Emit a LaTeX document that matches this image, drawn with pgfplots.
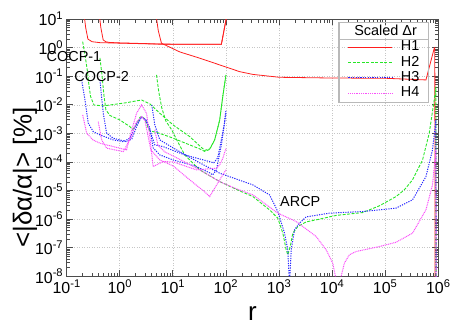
\documentclass[border=0pt]{standalone}
\usepackage{fontspec}
\setmainfont{Liberation Sans}
\usepackage{pgfplots}
\pgfplotsset{compat=1.18}
\definecolor{cH1}{RGB}{255,30,30}
\definecolor{cH2}{RGB}{40,230,40}
\definecolor{cH3}{RGB}{40,40,255}
\definecolor{cH4}{RGB}{250,80,250}
\pgfplotsset{
  H1/.style={cH1, solid, line width=0.8bp},
  H2/.style={cH2, dash pattern=on 3bp off 1.5bp, line width=0.9bp},
  H3/.style={cH3, dash pattern=on 1.2bp off 1.2bp, line width=1bp},
  H4/.style={cH4, dash pattern=on 1bp off 0.8bp, line width=1bp},
}
\begin{document}
\begin{tikzpicture}
\begin{axis}[
  width=371.6bp, height=257.2bp, scale only axis,
  xmode=log, ymode=log,
  xmin=0.1, xmax=1e6, ymin=1e-8, ymax=10,
  xtick={1e-1,1,10,100,1000,1e4,1e5,1e6},
  ytick={1e-8,1e-7,1e-6,1e-5,1e-4,1e-3,1e-2,1e-1,1,10},
  grid=major, major grid style={dash pattern=on 1bp off 1.5bp, gray!45, line width=0.6bp},
  axis line style={draw=black!70, line width=1.2bp},
  tick style={black!70, line width=0.8bp},
  major tick length=6bp, minor tick length=3.5bp,
  tick align=inside,
  ticklabel style={font=\fontsize{16}{18}\selectfont},
  xticklabel={10\textsuperscript{\pgfmathparse{int(round(\tick/ln(10)))}\pgfmathresult}},
  yticklabel={10\textsuperscript{\pgfmathparse{int(round(\tick/ln(10)))}\pgfmathresult}},
  clip mode=individual,
  xlabel={r}, ylabel={<|δα/α|> [\%]},
  xlabel style={font=\fontsize{26}{30}\selectfont, at={(rel axis cs:0.5,0)}, anchor=center, yshift=-37.7bp},
  ylabel style={font=\fontsize{26}{30}\selectfont, at={(rel axis cs:0,0.384)}, anchor=center, yshift=41.7bp},
  legend style={at={(rel axis cs:0.975,0.989)}, anchor=north east, draw=gray!55, line width=1.2bp, fill=none,
    inner xsep=9bp, inner ysep=1.5bp, column sep=8bp, row sep=0bp,
    font=\fontsize{14.5}{16}\selectfont,
    nodes={inner xsep=0bp, inner ysep=1.2bp, text height=10bp, text depth=3bp}},
  legend cell align=right,
  legend image code/.code={\draw[#1] (0bp,0bp) -- (44bp,0bp);},
]
\addlegendimage{empty legend}
\addlegendentry{\makebox[0pt][r]{Scaled Δr\hspace{2bp}}}
\addlegendimage{H1}\addlegendentry{H1}
\addlegendimage{H2}\addlegendentry{H2}
\addlegendimage{H3}\addlegendentry{H3}
\addlegendimage{H4}\addlegendentry{H4}

% ---------- H1 ----------
\addplot[H1, forget plot] coordinates {(0.212,15) (0.228,5) (0.251,2.0) (0.30,1.62) (0.42,1.50) (1.0,1.44) (3,1.37) (5.67,1.33) (20,1.31) (82,1.31) (100,9.3) (103,13)};
\addplot[H1, forget plot] coordinates {(0.41,15) (0.44,5) (0.487,1.86) (0.55,1.60) (0.65,1.52) (1.0,1.47) (3,1.39) (5.67,1.34) (20,1.31) (82,1.31) (100,9.3) (103,13)};
\addplot[H1, forget plot] coordinates {(4.8,15) (5.3,4) (6.1,1.43) (13.5,0.71) (32,0.43) (181,0.145) (322,0.116) (1020,0.092) (8900,0.087) (1e5,0.085) (5.85e5,0.0743) (8.38e5,0.953) (8.6e5,1.0) (8.7e5,1e-9)};

% ---------- H2 ----------
\addplot[H2, forget plot] coordinates {(0.200,1.62) (0.221,0.556) (0.244,0.166) (0.262,0.0497) (0.282,0.0194) (0.326,0.0099) (0.488,0.00916) (1.34,0.0119) (2.57,0.0148) (3.68,0.0108) (5.67,0.00508) (10.1,0.00198) (20.8,0.000773) (32.1,0.000366) (39.8,0.000255) (49.4,0.000287) (61.3,0.000593) (76.2,0.00296) (87.9,0.0222) (100,0.111)};
\addplot[H2, forget plot] coordinates {(0.423,0.436) (0.462,0.111) (0.502,0.0222) (0.548,0.00664) (0.652,0.00426) (1.0,0.00296) (1.55,0.00173) (1.76,0.00138) (2.10,0.00215) (2.39,0.00363) (2.60,0.00393) (2.96,0.00321) (3.37,0.00169) (3.68,0.00123) (4.98,0.00108) (8.75,0.000755) (16.7,0.000466) (32.1,0.000287) (39.8,0.000235) (49.4,0.000276) (61.3,0.000593) (76.2,0.00296) (87.9,0.0222) (100,0.111)};
\addplot[H2, forget plot] coordinates {(4.92,0.111) (5.43,0.0283) (6.18,0.0078) (7.36,0.00274) (9.53,0.00133) (12.4,5.04e-4) (16.7,1.77e-4) (32.1,5.30e-5) (76.2,2.06e-5) (181,9.77e-6) (322,6.17e-6) (662,2.11e-6) (948,1.08e-6) (1178,3.24e-7) (1365,8.45e-8) (1462,5.65e-8) (1625,1.10e-7) (1816,3.24e-7) (2254,5.5e-7) (3243,8.0e-7) (5768,1.0e-6) (8892,1.2e-6) (11890,1.35e-6) (37580,1.7e-6) (77450,2.92e-6) (1.6e5,6.17e-6) (2.29e5,1.06e-5) (3.27e5,2.37e-5) (5.05e5,1.18e-4) (6.75e5,1.02e-3) (8.38e5,0.0148) (9.02e5,0.0433) (9.1e5,1e-9)};

% ---------- H3 ----------
\addplot[H3, forget plot] coordinates {(0.191,0.0743) (0.221,0.0148) (0.255,0.00227) (0.316,0.00116) (0.423,0.000887) (0.752,0.000593) (1.16,0.000516) (1.55,0.000679) (2.01,0.00198) (2.57,0.00378) (3.09,0.00296) (3.68,0.00156) (4.25,0.000311) (5.67,0.000177) (10.1,0.000118) (25.8,7.31e-5) (49.4,4.16e-5) (56.2,3.54e-5) (66.1,5.30e-5) (82,0.000396) (100,0.00508)};
\addplot[H3, forget plot] coordinates {(0.423,0.0743) (0.488,0.00508) (0.565,0.00102) (0.752,0.000679) (1.34,0.000516) (1.69,0.000643) (2.10,0.00183) (2.57,0.00378) (3.09,0.00296) (3.68,0.00133) (4.57,0.000396) (6.55,0.000345) (16.7,0.000177) (49.4,0.000103) (58.7,9.3e-5) (69.8,0.000139) (82,0.000593) (92.5,0.00198) (100,0.00664)};
\addplot[H3, forget plot] coordinates {(4.01,0.0099) (4.57,0.00198) (5.67,0.000593) (10.1,0.000311) (32.1,9.31e-5) (76.2,4.06e-5) (322,1.58e-5) (662,7.07e-6) (948,1.85e-6) (1268,3.24e-7) (1462,8.45e-8) (1574,5e-9) (1694,8.45e-8) (1955,4.23e-7) (2427,7.25e-7) (3243,1.20e-6) (8892,1.62e-6) (37580,1.85e-6) (1.6e5,2.43e-6) (3.27e5,4.73e-6) (5.85e5,3.09e-5) (7.78e5,0.000265) (9.02e5,0.00296) (9.1e5,1e-9)};

% ---------- H4 ----------
\addplot[H4, forget plot] coordinates {(0.200,0.00444) (0.238,0.00102) (0.312,0.000593) (0.423,0.000454) (1.34,0.000265) (1.55,0.000773) (2.07,0.00508) (2.57,0.0099) (3.19,0.00508) (3.68,0.000773) (4.25,6.90e-5) (6.55,0.000103) (10.1,0.000101) (27.8,5.30e-5) (66.1,6.07e-5) (76.2,7.92e-5) (87.9,0.000139) (100,0.000304)};
\addplot[H4, forget plot] coordinates {(0.393,0.00259) (0.455,0.000593) (0.565,0.000304) (1.16,0.000231) (1.67,0.000773) (2.01,0.00233) (2.57,0.0039) (2.96,0.00296) (3.37,0.000887) (3.84,0.000265) (5.67,0.000118) (10.1,7.31e-5) (20.8,2.37e-5) (39.8,9.0e-6) (49.4,6.17e-6) (58.7,1.06e-5) (76.2,2.37e-5) (100,5.30e-5)};
\addplot[H4, forget plot] coordinates {(4.57,0.00133) (5.2,0.000396) (7.05,0.000225) (10.1,0.000163) (32.1,5.30e-5) (76.2,2.06e-5) (146,1.21e-5) (322,7.07e-6) (948,1.62e-6) (2105,8.25e-7) (5000,2.47e-7) (7709,8.45e-8) (10260,2.9e-8) (13200,3e-9) (14760,9.8e-9) (17020,2.9e-8) (21130,5.65e-8) (28250,7.36e-8) (77450,1.10e-7) (1.6e5,1.55e-7) (3.27e5,3.24e-7) (5.85e5,2.11e-6) (7.78e5,1.58e-5) (9.02e5,0.000265) (9.1e5,1e-9)};

\draw[gray!55, line width=1bp] (rel axis cs:0.730,0.9226) -- (rel axis cs:0.975,0.9226);
\node[font=\fontsize{14.5}{16}\selectfont] at (axis cs:0.137,0.49) {COCP-1};
\node[font=\fontsize{14.5}{16}\selectfont] at (axis cs:0.455,0.097) {COCP-2};
\node[font=\fontsize{14.5}{16}\selectfont] at (axis cs:2512,4.19e-6) {ARCP};
\end{axis}
\pgfresetboundingbox
\path ([xshift=-66.7bp,yshift=-50.7bp]current axis.south west) rectangle ([xshift=28.7bp,yshift=19.1bp]current axis.north east);
\end{tikzpicture}
\end{document}
